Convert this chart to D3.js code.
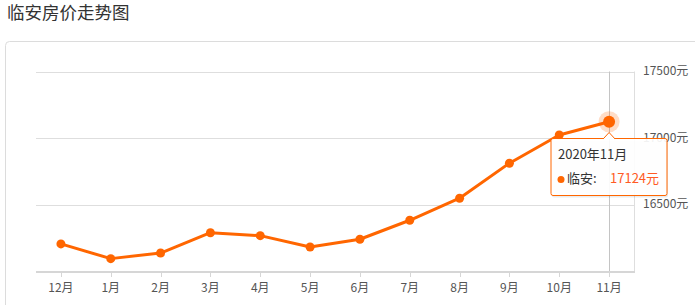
<!DOCTYPE html>
<html>
<head>
<meta charset="utf-8">
<script src="https://cdn.jsdelivr.net/npm/d3@7/dist/d3.min.js"></script>
<style>
  body { margin: 0; background: #fff; font-family: "Noto Sans CJK SC", "Noto Sans", sans-serif; }
  svg { display: block; }
</style>
</head>
<body>
<svg id="chart" width="695" height="305"></svg>
<script>
const months = ['12月', '1月', '2月', '3月', '4月', '5月', '6月', '7月', '8月', '9月', '10月', '11月'];
const prices = [16210, 16100, 16142, 16294, 16272, 16187, 16245, 16387, 16552, 16814, 17025, 17124];
const yTicks = [16500, 17000, 17500];
const title = '临安房价走势图';
const city = '临安';
const activeLabel = '2020年11月';

const svg = d3.select('#chart');
const conf = { left: 36, right: 634, top: 71.5, bottom: 272, color: '#ff6600' };

// title + panel
svg.append('text').text(title)
  .attr('x', 7).attr('y', 14)
  .attr('dominant-baseline', 'middle')
  .attr('font-size', 17.5).attr('fill', '#333');
svg.append('rect')
  .attr('x', 5.5).attr('y', 41.5).attr('width', 760).attr('height', 320)
  .attr('rx', 4).attr('fill', '#fff').attr('stroke', '#dcdcdc');

const x = d3.scaleBand().domain(months).range([conf.left, conf.right]);
const y = d3.scaleLinear().domain([16000, 17500]).range([conf.bottom, conf.top]);
const cx = d => x(d) + x.bandwidth() / 2;

// grid
svg.append('g').selectAll('line').data(yTicks).enter().append('line')
  .attr('x1', conf.left).attr('x2', conf.right)
  .attr('y1', d => Math.round(y(d)) + 0.5).attr('y2', d => Math.round(y(d)) + 0.5)
  .attr('stroke', '#dedede');
svg.append('line')
  .attr('x1', conf.right + 0.5).attr('x2', conf.right + 0.5)
  .attr('y1', conf.top).attr('y2', conf.bottom)
  .attr('stroke', '#dedede');

// right axis labels
svg.append('g').selectAll('text').data(yTicks).enter().append('text')
  .text(d => d + '元')
  .attr('x', 643).attr('y', d => y(d))
  .attr('dominant-baseline', 'middle')
  .attr('font-size', 12).attr('fill', '#555');

// crosshair on last month
const last = months.length - 1;
svg.append('line')
  .attr('x1', Math.round(cx(months[last])) + 0.5).attr('x2', Math.round(cx(months[last])) + 0.5)
  .attr('y1', conf.top).attr('y2', conf.bottom)
  .attr('stroke', '#c4c4c4');

// bottom axis
svg.append('line')
  .attr('x1', conf.left).attr('x2', conf.right + 1)
  .attr('y1', conf.bottom).attr('y2', conf.bottom)
  .attr('stroke', '#d6d6d6').attr('stroke-width', 2);
svg.append('g').selectAll('line').data(months).enter().append('line')
  .attr('x1', d => Math.round(cx(d)) + 0.5).attr('x2', d => Math.round(cx(d)) + 0.5)
  .attr('y1', conf.bottom).attr('y2', conf.bottom + 5)
  .attr('stroke', '#d6d6d6');
svg.append('g').selectAll('text').data(months).enter().append('text')
  .text(d => d)
  .attr('x', d => cx(d)).attr('y', 289)
  .attr('text-anchor', 'middle').attr('dominant-baseline', 'middle')
  .attr('font-size', 12).attr('fill', '#555');

// line + points
const line = d3.line().x((d, i) => cx(months[i])).y(d => y(d));
svg.append('path').datum(prices)
  .attr('d', line).attr('fill', 'none')
  .attr('stroke', conf.color).attr('stroke-width', 3)
  .attr('stroke-linejoin', 'round');
svg.append('g').selectAll('circle').data(prices).enter().append('circle')
  .attr('cx', (d, i) => cx(months[i])).attr('cy', d => y(d))
  .attr('r', (d, i) => i === last ? 6 : 4.5)
  .attr('fill', conf.color);
svg.append('circle')
  .attr('cx', cx(months[last])).attr('cy', y(prices[last]))
  .attr('r', 10.5).attr('fill', conf.color).attr('fill-opacity', 0.22);

// tooltip
const tx = cx(months[last]);
const tip = svg.append('g');
const bx = 551, by = 138.5, bw = 116, bh = 57;
tip.append('rect')
  .attr('x', bx + 1).attr('y', by + 2).attr('width', bw).attr('height', bh)
  .attr('rx', 2).attr('fill', '#000').attr('fill-opacity', 0.08);
tip.append('rect')
  .attr('x', bx).attr('y', by).attr('width', bw).attr('height', bh)
  .attr('rx', 2).attr('fill', '#fff').attr('fill-opacity', 0.92)
  .attr('stroke', conf.color);
tip.append('path')
  .attr('d', `M${tx - 6},${by + 0.5} L${tx},${by - 6} L${tx + 6},${by + 0.5}`)
  .attr('fill', '#fff').attr('stroke', conf.color);
tip.append('text').text(activeLabel)
  .attr('x', 558).attr('y', 155.5)
  .attr('dominant-baseline', 'middle')
  .attr('font-size', 13).attr('fill', '#333');
tip.append('circle')
  .attr('cx', 561).attr('cy', 179.5).attr('r', 3.5).attr('fill', conf.color);
tip.append('text').text(city + ':')
  .attr('x', 567).attr('y', 179)
  .attr('dominant-baseline', 'middle')
  .attr('font-size', 13).attr('fill', '#333');
tip.append('text').text(prices[last] + '元')
  .attr('x', 610).attr('y', 179)
  .attr('dominant-baseline', 'middle')
  .attr('font-size', 13).attr('fill', '#ff5a24');
</script>
</body>
</html>
